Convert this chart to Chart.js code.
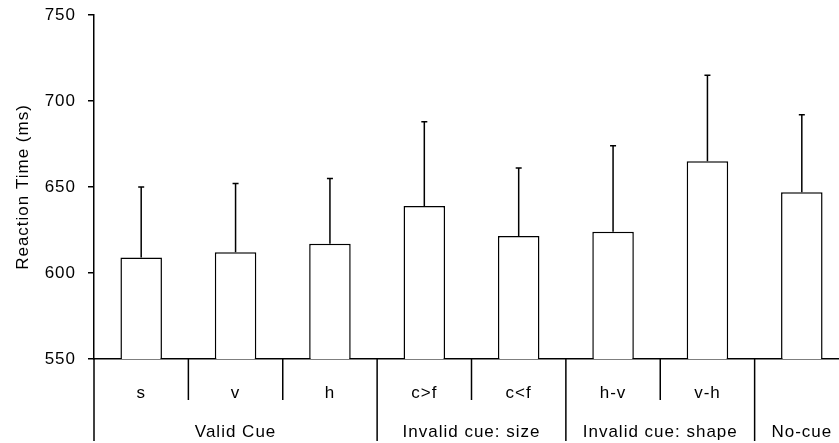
<!DOCTYPE html>
<html>
<head>
<meta charset="utf-8">
<script src="https://cdn.jsdelivr.net/npm/chart.js@4"></script>
<style>
  html, body { margin: 0; padding: 0; background: #fff; overflow: hidden; }
  #wrap { width: 860px; height: 443px; }
</style>
</head>
<body>
<div id="wrap"><canvas id="chart" width="860" height="443"></canvas></div>
<script>
// categories and values
const conditions = ['s', 'v', 'h', 'c>f', 'c<f', 'h-v', 'v-h', ''];
const meanRT = [609, 612, 617, 639, 621.5, 624, 665, 647];
const errorTop = [650, 652, 655, 688, 661, 674, 715, 692];
const groups = ['Valid Cue', 'Invalid cue: size', 'Invalid cue: shape', 'No-cue'];
const groupSizes = [3, 2, 2, 1];
const yTicks = [550, 600, 650, 700, 750];

const FONT = "'Liberation Sans', Arial, sans-serif";
const FSIZE = 17;

// wide old-style lettering
const spacing = {
  id: 'spacing',
  beforeDraw(chart) { chart.ctx.letterSpacing = '1px'; }
};

// error bars + the separator lines under the axis + group names
const extras = {
  id: 'extras',
  afterDatasetsDraw(chart) {
    const ctx = chart.ctx;
    const x = chart.scales.x;
    const y = chart.scales.y;
    const meta = chart.getDatasetMeta(0);
    ctx.save();
    ctx.strokeStyle = '#000';
    ctx.lineWidth = 1.5;

    meta.data.forEach((bar, i) => {
      const yt = y.getPixelForValue(errorTop[i]);
      ctx.beginPath();
      ctx.moveTo(bar.x, bar.y);
      ctx.lineTo(bar.x, yt);
      ctx.moveTo(bar.x - 3, yt);
      ctx.lineTo(bar.x + 3, yt);
      ctx.stroke();
    });

    // separators
    const half = (x.getPixelForValue(1) - x.getPixelForValue(0)) / 2;
    const base = x.top;
    const shortEnd = base + 41;
    const longEnd = base + 82;
    let idx = 0;
    const groupEdges = [0];
    groupSizes.forEach(n => { idx += n; groupEdges.push(idx); });
    for (let i = 0; i <= conditions.length; i++) {
      const px = x.getPixelForValue(0) - half + i * half * 2;
      const isGroup = groupEdges.includes(i);
      ctx.beginPath();
      ctx.moveTo(px, base);
      ctx.lineTo(px, isGroup ? longEnd : shortEnd);
      ctx.stroke();
    }

    // group names
    ctx.fillStyle = '#000';
    ctx.font = FSIZE + 'px ' + FONT;
    ctx.textAlign = 'center';
    ctx.textBaseline = 'middle';
    let start = 0;
    groups.forEach((g, k) => {
      const a = x.getPixelForValue(start) - half;
      const b = x.getPixelForValue(start + groupSizes[k] - 1) + half;
      ctx.fillText(g, (a + b) / 2, base + 73);
      start += groupSizes[k];
    });
    ctx.restore();
  }
};

new Chart(document.querySelector('#chart'), {
  type: 'bar',
  data: {
    labels: conditions,
    datasets: [{
      data: meanRT,
      backgroundColor: '#fff',
      borderColor: '#000',
      borderWidth: 1.5,
      borderSkipped: 'bottom',
      categoryPercentage: 1,
      barPercentage: 0.44
    }]
  },
  options: {
    responsive: false,
    animation: false,
    layout: { padding: { top: 15, right: 11, bottom: 0, left: 0 } },
    plugins: { legend: { display: false }, tooltip: { enabled: false } },
    scales: {
      x: {
        grid: { display: false, drawTicks: false },
        border: { display: true, color: '#000', width: 1.5 },
        ticks: { color: '#000', font: { family: FONT, size: FSIZE }, padding: 24, maxRotation: 0, autoSkip: false },
        afterFit(scale) { scale.height = 84; }
      },
      y: {
        min: 550,
        max: 750,
        afterBuildTicks(scale) { scale.ticks = yTicks.map(v => ({ value: v })); },
        grid: { drawOnChartArea: false, drawTicks: true, tickLength: 6, color: '#000', lineWidth: 1.5 },
        border: { display: true, color: '#000', width: 1.5 },
        ticks: { color: '#000', font: { family: FONT, size: FSIZE }, padding: 12 },
        title: {
          display: true,
          text: 'Reaction Time (ms)',
          color: '#000',
          font: { family: FONT, size: FSIZE },
          padding: { top: 13, bottom: 0 }
        },
        afterFit(scale) {
          scale.width = 94;
          scale.paddingTop = 0;
          scale.paddingBottom = 0;
        }
      }
    }
  },
  plugins: [spacing, extras]
});
</script>
</body>
</html>
